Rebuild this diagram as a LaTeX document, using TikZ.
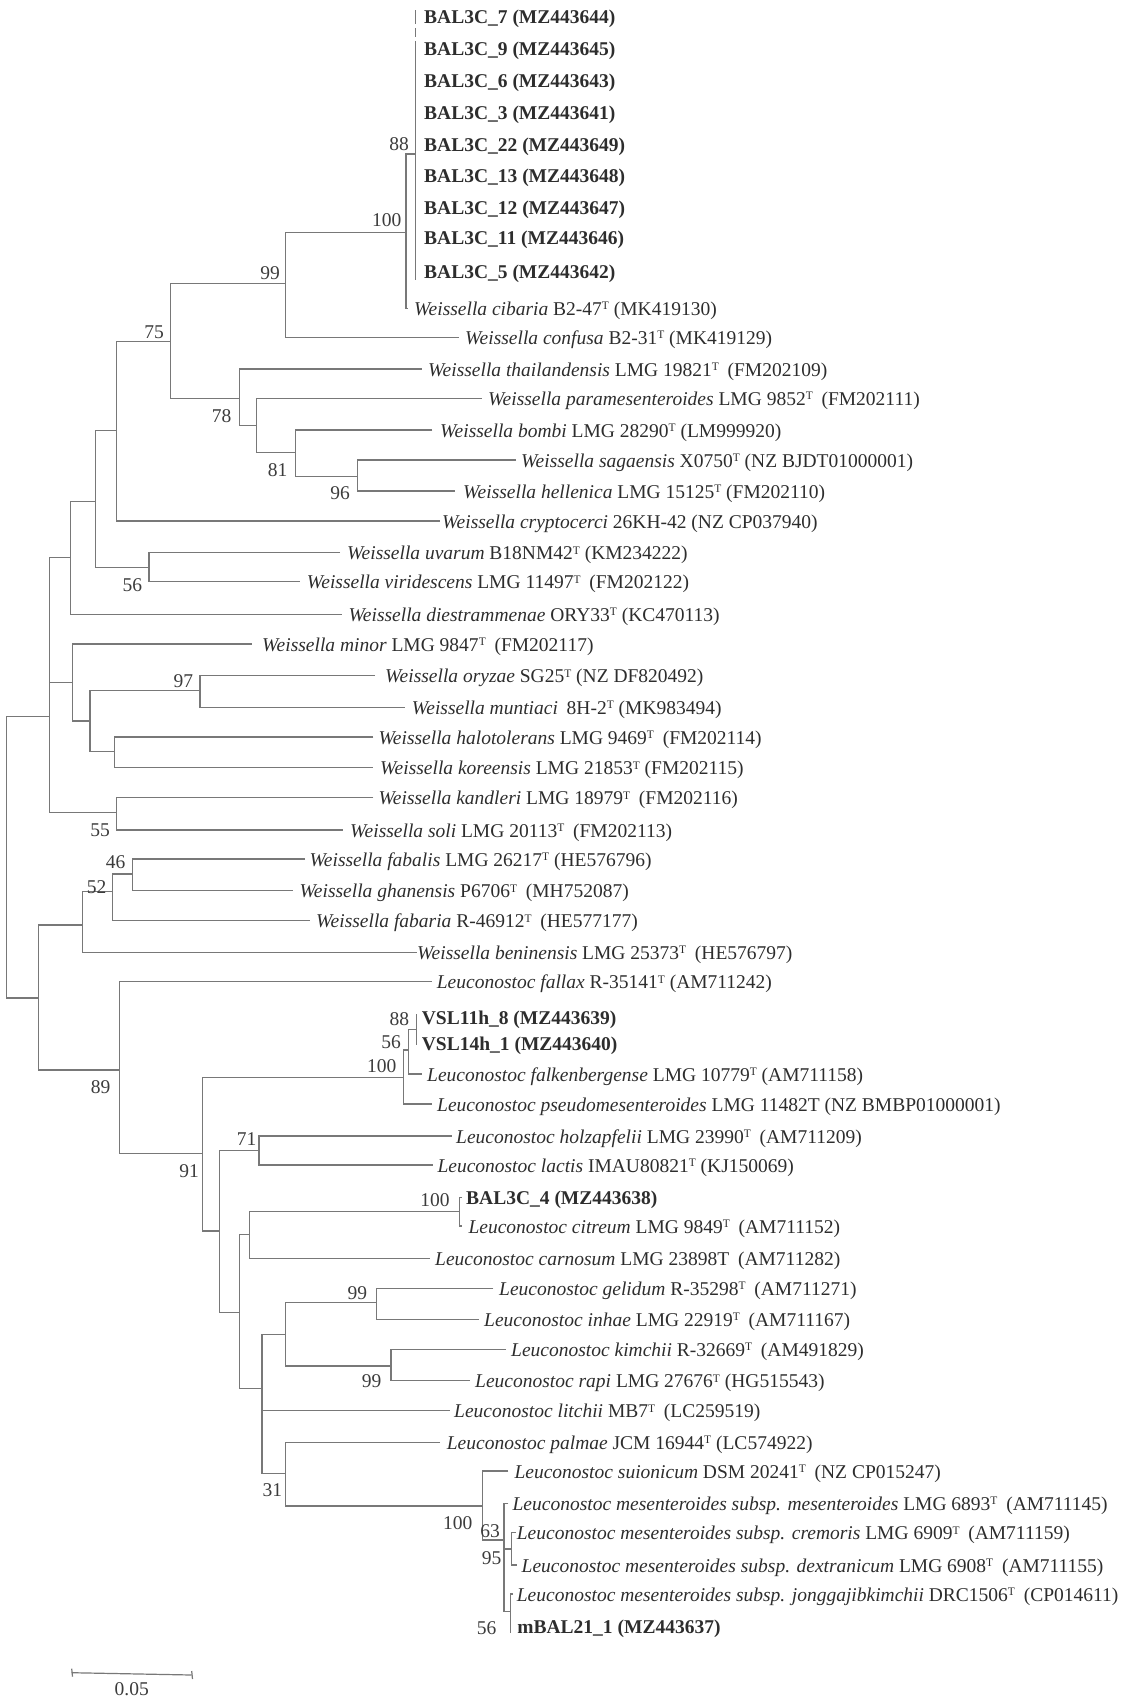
\documentclass[tikz,border=0pt]{standalone}
\usepackage{fontspec}
\setmainfont{Liberation Serif}
\definecolor{brc}{RGB}{120,120,120}
\definecolor{txc}{RGB}{45,45,45}
\definecolor{bsc}{RGB}{60,60,60}
\newcommand{\sT}{\raisebox{0.62ex}{\fontsize{11.5}{12}\selectfont T}}
\newcommand{\dsp}{\hspace{0.45em}}
\newcommand{\leaf}[5]{\coordinate (#1) at (#2,#3);\node[lt] (#1t) at (#4,#3) {#5};}
\begin{document}
\begin{tikzpicture}[x=1pt,y=-1pt,
  br/.style={draw=brc,line width=1.5pt},
  lt/.style={anchor=base west,inner sep=0pt,yshift=-7pt,text=txc,font=\fontsize{19.5}{23}\selectfont},
  bs/.style={inner sep=0pt,text=bsc,font=\fontsize{19.5}{23}\selectfont}]
\useasboundingbox (0,0) rectangle (1127,1702);
% ---------- leaves ----------
\leaf{l1}{415.7}{16.5}{424}{\textbf{BAL3C\_7 (MZ443644)}}
\leaf{l2}{415.7}{49}{424}{\textbf{BAL3C\_9 (MZ443645)}}
\leaf{l3}{415.7}{80.5}{424}{\textbf{BAL3C\_6 (MZ443643)}}
\leaf{l4}{415.7}{112.5}{424}{\textbf{BAL3C\_3 (MZ443641)}}
\leaf{l5}{415.7}{144}{424}{\textbf{BAL3C\_22 (MZ443649)}}
\leaf{l6}{415.7}{175.5}{424}{\textbf{BAL3C\_13 (MZ443648)}}
\leaf{l7}{415.7}{207.5}{424}{\textbf{BAL3C\_12 (MZ443647)}}
\leaf{l8}{415.7}{237.5}{424}{\textbf{BAL3C\_11 (MZ443646)}}
\leaf{l9}{415.7}{271}{424}{\textbf{BAL3C\_5 (MZ443642)}}
\leaf{l10}{408.3}{308.3}{414}{\textit{Weissella cibaria} B2-47\sT{} (MK419130)}
\leaf{l11}{459.3}{337.3}{465}{\textit{Weissella confusa} B2-31\sT{} (MK419129)}
\leaf{l12}{421.7}{369}{428}{\textit{Weissella thailandensis} LMG 19821\sT\dsp(FM202109)}
\leaf{l13}{481.7}{398.3}{488}{\textit{Weissella paramesenteroides} LMG 9852\sT\dsp(FM202111)}
\leaf{l14}{432.3}{430}{440}{\textit{Weissella bombi} LMG 28290\sT{} (LM999920)}
\leaf{l15}{516}{460}{521}{\textit{Weissella sagaensis} X0750\sT{} (NZ BJDT01000001)}
\leaf{l16}{455}{491}{463}{\textit{Weissella hellenica} LMG 15125\sT{} (FM202110)}
\leaf{l17}{440}{521}{442}{\textit{Weissella cryptocerci} 26KH-42 (NZ CP037940)}
\leaf{l18}{340}{552.7}{347}{\textit{Weissella uvarum} B18NM42\sT{} (KM234222)}
\leaf{l19}{300}{581.7}{306.7}{\textit{Weissella viridescens} LMG 11497\sT\dsp(FM202122)}
\leaf{l20}{341.7}{614.3}{348.3}{\textit{Weissella diestrammenae} ORY33\sT{} (KC470113)}
\leaf{l21}{251.7}{644}{262}{\textit{Weissella minor} LMG 9847\sT\dsp(FM202117)}
\leaf{l22}{375}{675.7}{385}{\textit{Weissella oryzae} SG25\sT{} (NZ DF820492)}
\leaf{l23}{405}{707.3}{411.7}{\textit{Weissella muntiaci}\dsp8H-2\sT{} (MK983494)}
\leaf{l24}{373.3}{737}{378.3}{\textit{Weissella halotolerans} LMG 9469\sT\dsp(FM202114)}
\leaf{l25}{373.3}{767.7}{380}{\textit{Weissella koreensis} LMG 21853\sT{} (FM202115)}
\leaf{l26}{373.3}{797.7}{378.3}{\textit{Weissella kandleri} LMG 18979\sT\dsp(FM202116)}
\leaf{l27}{343.3}{830}{350}{\textit{Weissella soli} LMG 20113\sT\dsp(FM202113)}
\leaf{l28}{305}{859}{309.3}{\textit{Weissella fabalis} LMG 26217\sT{} (HE576796)}
\leaf{l29}{293.3}{890.7}{299.3}{\textit{Weissella ghanensis} P6706\sT\dsp(MH752087)}
\leaf{l30}{310}{920.7}{316}{\textit{Weissella fabaria} R-46912\sT\dsp(HE577177)}
\leaf{l31}{416.7}{952.3}{417}{\textit{Weissella beninensis} LMG 25373\sT\dsp(HE576797)}
\leaf{l32}{431.7}{981.7}{436.7}{\textit{Leuconostoc fallax} R-35141\sT{} (AM711242)}
\leaf{l33}{416.7}{1017}{421.7}{\textbf{VSL11h\_8 (MZ443639)}}
\leaf{l34}{416.7}{1043}{421.7}{\textbf{VSL14h\_1 (MZ443640)}}
\leaf{l35}{421.7}{1074}{427}{\textit{Leuconostoc falkenbergense} LMG 10779\sT{} (AM711158)}
\leaf{l36}{431.7}{1104}{437}{\textit{Leuconostoc pseudomesenteroides} LMG 11482T (NZ BMBP01000001)}
\leaf{l37}{451.7}{1136}{456}{\textit{Leuconostoc holzapfelii} LMG 23990\sT\dsp(AM711209)}
\leaf{l38}{433.3}{1165}{437.3}{\textit{Leuconostoc lactis} IMAU80821\sT{} (KJ150069)}
\leaf{l39}{462}{1197.3}{466}{\textbf{BAL3C\_4 (MZ443638)}}
\leaf{l40}{462}{1226}{468.3}{\textit{Leuconostoc citreum} LMG 9849\sT\dsp(AM711152)}
\leaf{l41}{430}{1258.3}{435}{\textit{Leuconostoc carnosum} LMG 23898T\dsp(AM711282)}
\leaf{l42}{493.3}{1288.3}{499}{\textit{Leuconostoc gelidum} R-35298\sT\dsp(AM711271)}
\leaf{l43}{479}{1319.3}{484}{\textit{Leuconostoc inhae} LMG 22919\sT\dsp(AM711167)}
\leaf{l44}{506}{1349.3}{511}{\textit{Leuconostoc kimchii} R-32669\sT\dsp(AM491829)}
\leaf{l45}{470}{1380.7}{475}{\textit{Leuconostoc rapi} LMG 27676\sT{} (HG515543)}
\leaf{l46}{450}{1410.7}{454}{\textit{Leuconostoc litchii} MB7\sT\dsp(LC259519)}
\leaf{l47}{440}{1442.3}{446.7}{\textit{Leuconostoc palmae} JCM 16944\sT{} (LC574922)}
\leaf{l48}{508.3}{1471}{514.3}{\textit{Leuconostoc suionicum} DSM 20241\sT\dsp(NZ CP015247)}
\leaf{l49}{508.3}{1503.3}{512.4}{\textit{Leuconostoc mesenteroides subsp. mesenteroides} LMG 6893\sT\dsp(AM711145)}
\leaf{l50}{516}{1532.7}{516.7}{\textit{Leuconostoc mesenteroides subsp. cremoris} LMG 6909\sT\dsp(AM711159)}
\leaf{l51}{516.7}{1565}{521.5}{\textit{Leuconostoc mesenteroides subsp. dextranicum} LMG 6908\sT\dsp(AM711155)}
\leaf{l52}{513}{1594}{516.7}{\textit{Leuconostoc mesenteroides subsp. jonggajibkimchii} DRC1506\sT\dsp(CP014611)}
\leaf{l53}{510.7}{1626}{517.2}{\textbf{mBAL21\_1 (MZ443637)}}
% ---------- internal nodes ----------
\coordinate (bc) at (415.7,154);
\coordinate (n100a) at (406,232.3);
\coordinate (n99) at (285.7,283.3);
\coordinate (n75) at (170.7,341.7);
\coordinate (n78) at (239.3,398.3);
\coordinate (nP) at (256.7,425.7);
\coordinate (n81) at (295.7,452.3);
\coordinate (n96) at (357.3,476.7);
\coordinate (nC) at (116.7,430.7);
\coordinate (n56a) at (149,567.7);
\coordinate (nD) at (95.7,501.7);
\coordinate (nE) at (70.7,557.7);
\coordinate (n97) at (200,690.7);
\coordinate (nHK) at (114.3,751.7);
\coordinate (nF) at (90,721);
\coordinate (nMi) at (72.7,682.7);
\coordinate (n55) at (116.7,812.7);
\coordinate (nW) at (49.5,716.7);
\coordinate (n46) at (132.3,874);
\coordinate (n52) at (112.3,891.7);
\coordinate (nFab) at (82.3,925);
\coordinate (nV88) at (416.7,1029.3);
\coordinate (nV56) at (408.3,1050);
\coordinate (nV100) at (403.3,1077.3);
\coordinate (n71) at (259,1150.7);
\coordinate (nB4) at (459.3,1211.7);
\coordinate (nI) at (249.3,1234.3);
\coordinate (n99a) at (376.7,1302.7);
\coordinate (n99b) at (391,1366);
\coordinate (nK) at (285.7,1334.3);
\coordinate (n95) at (511.7,1549);
\coordinate (n56b) at (510.7,1611.7);
\coordinate (n63) at (504,1540);
\coordinate (nM100) at (482.3,1506);
\coordinate (n31) at (285.7,1473.3);
\coordinate (nJ) at (262,1388.3);
\coordinate (nH) at (239.3,1312.7);
\coordinate (nG) at (219.3,1231);
\coordinate (n91) at (202.3,1153.3);
\coordinate (n89) at (119.3,1070);
\coordinate (nR2) at (38.3,998);
\coordinate (root) at (6.7,857);
% ---------- branches ----------
\draw[br] ([yshift=6pt]l1) -- ([yshift=-7.5pt]l1);
\draw[br] ([yshift=-11.5pt]l1) -- ([yshift=12pt]l2);
\draw[br] ([yshift=8pt]l2) -- ([yshift=-9pt]l9);
\draw[br] (bc) -| (n100a) |- (l10);
\draw[br] (n100a) -| (n99) |- (l11);
\draw[br] (l15) -| (n96) |- (l16);
\draw[br] (l14) -| (n81) |- (n96);
\draw[br] (l13) -| (nP) |- (n81);
\draw[br] (l12) -| (n78) |- (nP);
\draw[br] (n99) -| (n75) |- (n78);
\draw[br] (n75) -| (nC) |- (l17);
\draw[br] (l18) -| (n56a) |- (l19);
\draw[br] (nC) -| (nD) |- (n56a);
\draw[br] (nD) -| (nE) |- (l20);
\draw[br] (l22) -| (n97) |- (l23);
\draw[br] (l24) -| (nHK) |- (l25);
\draw[br] (n97) -| (nF) |- (nHK);
\draw[br] (l21) -| (nMi) |- (nF);
\draw[br] (l26) -| (n55) |- (l27);
\draw[br] (nE) -| (nW) |- (n55);
\draw[br] (nW) |- (nMi);
\draw[br] (l28) -| (n46) |- (l29);
\draw[br] (n46) -| (n52) |- (l30);
\draw[br] (n52) -| (nFab) |- (l31);
\draw[br] ([yshift=3pt]l33) -- ([yshift=-2pt]l34);
\draw[br] (nV88) -| (nV56) |- (l35);
\draw[br] (nV56) -| (nV100) |- (l36);
\draw[br] (l37) -| (n71) |- (l38);
\draw[br] (l39) -| (nB4) |- (l40);
\draw[br] (nB4) -| (nI) |- (l41);
\draw[br] (l42) -| (n99a) |- (l43);
\draw[br] (l44) -| (n99b) |- (l45);
\draw[br] (n99a) -| (nK) |- (n99b);
\draw[br] (l50) -| (n95) |- (l51);
\draw[br] (l52) -| (n56b) |- (l53);
\draw[br] (l53) -- ([yshift=-7pt]l53);
\draw[br] (l49) -| (n63) |- (n56b);
\draw[br] (n63) |- (n95);
\draw[br] (l48) -| (nM100) |- (n63);
\draw[br] (l47) -| (n31) |- (nM100);
\draw[br] (nK) -| (nJ) |- (n31);
\draw[br] (nJ) |- (l46);
\draw[br] (nI) -| (nH) |- (nJ);
\draw[br] (n71) -| (nG) |- (nH);
\draw[br] (nV100) -| (n91) |- (nG);
\draw[br] (l32) -| (n89) |- (n91);
\draw[br] (nFab) -| (nR2) |- (n89);
\draw[br] (nW) -| (root) |- (nR2);
% ---------- bootstrap values ----------
\node[bs] (b1) at (399,144) {88};
\node[bs] (b2) at (386.7,220) {100};
\node[bs] (b3) at (270,273.3) {99};
\node[bs] (b4) at (154,332.3) {75};
\node[bs] (b5) at (221.7,415.7) {78};
\node[bs] (b6) at (277.7,470) {81};
\node[bs] (b7) at (340,492.7) {96};
\node[bs] (b8) at (132.3,585) {56};
\node[bs] (b9) at (183.3,681) {97};
\node[bs] (b10) at (100,830) {55};
\node[bs] (b11) at (115.7,861.7) {46};
\node[bs] (b12) at (96.7,886.7) {52};
\node[bs] (b13) at (100.7,1087.3) {89};
\node[bs] (b14) at (399.3,1019) {88};
\node[bs] (b15) at (391,1041.7) {56};
\node[bs] (b16) at (381.7,1065.7) {100};
\node[bs] (b17) at (189,1170.7) {91};
\node[bs] (b18) at (246.7,1139.3) {71};
\node[bs] (b19) at (435,1200) {100};
\node[bs] (b20) at (357.3,1292.7) {99};
\node[bs] (b21) at (371.7,1381) {99};
\node[bs] (b22) at (272.3,1490) {31};
\node[bs] (b23) at (457.7,1522.7) {100};
\node[bs] (b24) at (490,1531) {63};
\node[bs] (b25) at (491.7,1558.3) {95};
\node[bs] (b26) at (486.7,1628.3) {56};
% ---------- scale bar ----------
\coordinate (s1) at (71.7,1672.7);
\coordinate (s2) at (191.7,1675);
\draw[br,line width=1.2pt] (s1) -- (s2);
\draw[br,line width=1.2pt] ([yshift=4pt]s1) -- ([xshift=0.8pt,yshift=-4pt]s1);
\draw[br,line width=1.2pt] ([yshift=4pt]s2) -- ([xshift=0.8pt,yshift=-4pt]s2);
\node[bs] (sl) at (131.7,1689.3) {0.05};
\end{tikzpicture}
\end{document}
